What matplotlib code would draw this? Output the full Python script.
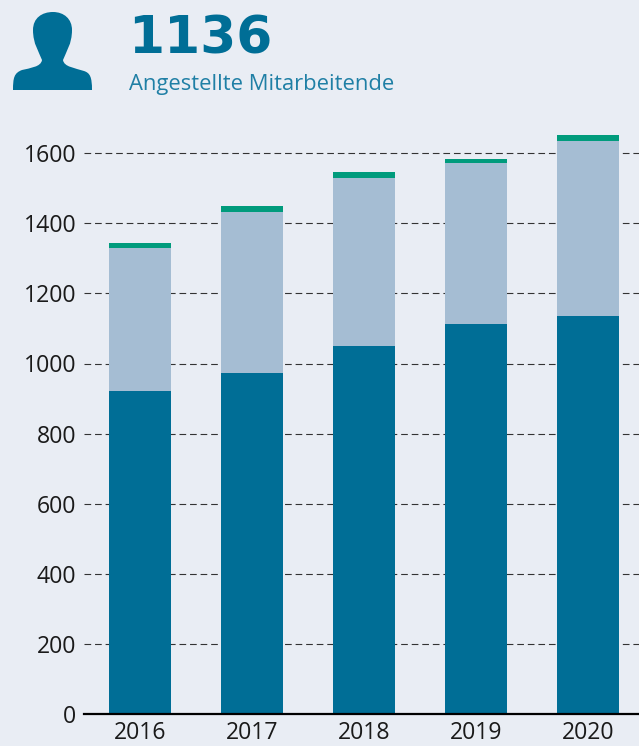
import matplotlib
matplotlib.use("Agg")
import matplotlib.pyplot as plt
from matplotlib.path import Path
from matplotlib.patches import PathPatch

years = ["2016", "2017", "2018", "2019", "2020"]
employed = [922, 973, 1050, 1113, 1136]
second = [408, 460, 480, 460, 500]
third = [14, 17, 17, 11, 17]
yticks = [0, 200, 400, 600, 800, 1000, 1200, 1400, 1600]

BG = "#E9EDF4"
BLUE = "#006E96"
LIGHT = "#A5BDD3"
GREEN = "#009B7C"
W, H = 639, 746

plt.rcParams["font.family"] = ["Open Sans", "DejaVu Sans"]
fig = plt.figure(figsize=(W / 100, H / 100), dpi=100, facecolor=BG)
top, bot = 100, 714
ax = fig.add_axes([84 / W, 1 - bot / H, (W - 84) / W, (bot - top) / H], facecolor=BG)
ax.set_xlim(-0.5, 4.452)
ax.set_ylim(0, (bot - top) / 0.3505)

x = list(range(len(years)))
bw = 62 / 112
ax.bar(x, employed, bw, color=BLUE, zorder=3)
ax.bar(x, second, bw, bottom=employed, color=LIGHT, zorder=3)
ax.bar(x, third, bw, bottom=[a + b for a, b in zip(employed, second)], color=GREEN, zorder=3)

ax.set_yticks(yticks)
ax.set_xticks(x, years)
ax.tick_params(axis="both", length=0, labelsize=16.6, colors="#1a1a1a")
ax.tick_params(axis="y", pad=5.5)
ax.tick_params(axis="x", pad=5)
for g in yticks[1:]:
    ax.axhline(g, color="#333333", lw=0.8, dashes=(6, 3.5), zorder=1)
for s in ("top", "right", "left"):
    ax.spines[s].set_visible(False)
ax.spines["bottom"].set_color("black")
ax.spines["bottom"].set_linewidth(1.6)
ax.spines["bottom"].set_zorder(4)

fig.text(128 / W, 1 - 53 / H, "1136", fontsize=37.3, fontfamily="DejaVu Sans", fontweight="bold", color=BLUE, va="baseline", ha="left")
fig.text(129 / W, 1 - 90 / H, "Angestellte Mitarbeitende", fontsize=15.8, color="#1F7FA5", va="baseline", ha="left")

# person icon, in figure pixels
pts = [
    (13, 90), (13, 78), (14, 73), (22, 70),
    (30, 68), (41, 67), (42, 60),
    (39, 52), (33, 44), (33, 30),
    (33, 18), (42, 12), (53, 12),
    (64, 12), (72, 19), (72, 30),
    (72, 44), (66, 52), (63, 60),
    (64, 67), (75, 68), (84, 71),
    (90, 73), (92, 77), (92, 90), (13, 90),
]
codes = [Path.MOVETO] + [Path.CURVE4] * 24 + [Path.CLOSEPOLY]
verts = [(px / W, 1 - py / H) for px, py in pts]
fig.add_artist(PathPatch(Path(verts, codes), transform=fig.transFigure, facecolor=BLUE, edgecolor="none"))

fig.savefig("out.png", dpi=100, facecolor=BG)
